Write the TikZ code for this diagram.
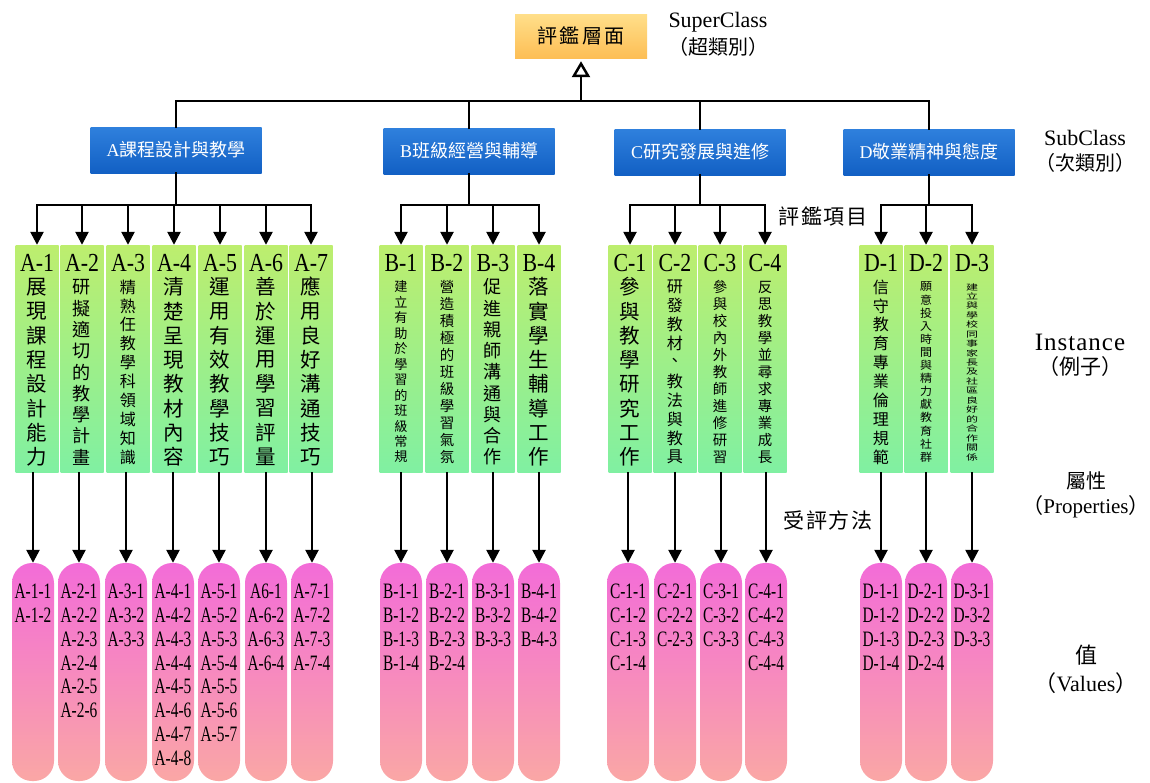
\documentclass[tikz,border=0pt]{standalone}
\usepackage{fontspec}
\setmainfont{Liberation Serif}
\newfontfamily\cjk{Noto Sans CJK TC}
\newfontfamily\narrow{Liberation Serif}[FakeStretch=0.84]
\newfontfamily\vnarrow{Liberation Serif}[FakeStretch=0.7]
\usetikzlibrary{arrows.meta}
\definecolor{subtop}{HTML}{2F80DD}
\definecolor{subbot}{HTML}{1260C4}
\definecolor{suptop}{HTML}{FFDF8A}
\definecolor{supbot}{HTML}{FDBE55}
\definecolor{insttop}{HTML}{BDEE6E}
\definecolor{instbot}{HTML}{80F0A2}
\definecolor{valtop}{HTML}{F36CD8}
\definecolor{valbot}{HTML}{FAA7A5}
\tikzset{
  ln/.style={line width=2.5pt, black, line cap=rect},
  arr/.style={line width=2.5pt, black, -{Triangle[width=13pt,length=13pt]}},
  openarr/.style={line width=2.5pt, black, -{Triangle[open,width=18pt,length=16pt]}},
  supbox/.style={rectangle, minimum width=132pt, minimum height=44pt, top color=suptop, bottom color=supbot, inner sep=0pt, font=\fontsize{20}{20}\selectfont\cjk\addfontfeature{LetterSpace=12}},
  subbox/.style={rectangle, minimum width=171pt, minimum height=46pt, top color=subtop, bottom color=subbot, text=white, inner sep=0pt, font=\fontsize{18}{18}\selectfont},
  instbox/.style={rectangle, minimum width=43pt, minimum height=227pt, top color=insttop, bottom color=instbot, inner sep=0pt},
  valbox/.style={rectangle, rounded corners=20pt, minimum width=42pt, minimum height=218pt, top color=valtop, bottom color=valbot, inner sep=0pt},
  instlab/.style={inner sep=0pt, font=\fontsize{26}{26}\selectfont\narrow},
  valtxt/.style={inner sep=0pt, align=center, anchor=north, font=\fontsize{22}{23.8}\selectfont\vnarrow},
  side/.style={inner sep=0pt, align=center, font=\fontsize{22}{25}\selectfont},
  sidecjk/.style={inner sep=0pt, font=\fontsize{21}{21}\selectfont\cjk\addfontfeature{LetterSpace=8}},
}
\begin{document}
\begin{tikzpicture}[x=1pt,y=-1pt]
\path[use as bounding box, fill=white] (0,0) rectangle (1150,782);

% super class
\node[supbox] (top) at (581,36) {評鑑層面};
\node[side] (suplab) at (718,22) {SuperClass};
\node[side, font=\fontsize{20}{20}\selectfont\cjk] (suplab2) at (718,47) {（超類別）};

% subclasses
\node[subbox] (A) at (176,150) {A{\cjk 課程設計與教學}};
\node[subbox] (B) at (469,151) {B{\cjk 班級經營與輔導}};
\node[subbox] (C) at (700,152) {C{\cjk 研究發展與進修}};
\node[subbox] (D) at (929,152) {D{\cjk 敬業精神與態度}};
\node[side] (sublab) at (1085,138) {SubClass};
\node[side, font=\fontsize{20}{20}\selectfont\cjk] (sublab2) at (1085,163) {（次類別）};

% buses
\coordinate (bus1) at (0,101);
\coordinate (bus2) at (0,205);
\draw[ln] (A.north) -- (A.north |- bus1) -- (D.north |- bus1) -- (D.north);
\draw[ln] (B.north) -- (B.north |- bus1);
\draw[ln] (C.north) -- (C.north |- bus1);
\draw[openarr, shorten >=3pt] (top.south |- bus1) -- (top.south);

% instances
\foreach \id/\x/\lab/\n/\chars in {
  A1/37/A-1/8/{展,現,課,程,設,計,能,力},
  A2/82/A-2/9/{研,擬,適,切,的,教,學,計,畫},
  A3/128/A-3/10/{精,熟,任,教,學,科,領,域,知,識},
  A4/174/A-4/8/{清,楚,呈,現,教,材,內,容},
  A5/220/A-5/8/{運,用,有,效,教,學,技,巧},
  A6/266/A-6/8/{善,於,運,用,學,習,評,量},
  A7/311/A-7/8/{應,用,良,好,溝,通,技,巧},
  B1/401/B-1/12/{建,立,有,助,於,學,習,的,班,級,常,規},
  B2/447/B-2/11/{營,造,積,極,的,班,級,學,習,氣,氛},
  B3/493/B-3/9/{促,進,親,師,溝,通,與,合,作},
  B4/539/B-4/8/{落,實,學,生,輔,導,工,作},
  C1/630/C-1/8/{參,與,教,學,研,究,工,作},
  C2/675/C-2/10/{研,發,教,材,、,教,法,與,教,具},
  C3/720/C-3/11/{參,與,校,內,外,教,師,進,修,研,習},
  C4/765/C-4/11/{反,思,教,學,並,尋,求,專,業,成,長},
  D1/881/D-1/10/{信,守,教,育,專,業,倫,理,規,範},
  D2/926/D-2/14/{願,意,投,入,時,間,與,精,力,獻,教,育,社,群},
  D3/972/D-3/19/{建,立,與,學,校,同,事,家,長,及,社,區,良,好,的,合,作,關,係}}{
  \node[instbox] (\id) at (\x,358.5) {};
  \node[instlab] (\id lab) at (\x,263) {\lab};
  \pgfmathsetmacro\sp{170/(\n-1)}
  \pgfmathsetmacro\fs{min(20.5,0.85*\sp)}
  \pgfmathsetmacro\hs{min(1.6,max(1,12/\fs))}
  \foreach \c [count=\i] in \chars {
    \node[inner sep=0pt, font=\fontsize{\fs}{\fs}\selectfont\cjk] (\id c\i) at (\x,{287+(\i-1)*\sp}) {\scalebox{\hs}[1]{\c}};
  }
}

\draw[ln] (A.south) -- (A.south |- bus2);
\draw[ln] (B.south) -- (B.south |- bus2);
\draw[ln] (C.south) -- (C.south |- bus2);
\draw[ln] (D.south) -- (D.south |- bus2);
\draw[ln] (A1.north |- bus2) -- (A7.north |- bus2);
\draw[ln] (B1.north |- bus2) -- (B4.north |- bus2);
\draw[ln] (C1.north |- bus2) -- (C4.north |- bus2);
\draw[ln] (D1.north |- bus2) -- (D3.north |- bus2);
\foreach \k in {A1,A2,A3,A4,A5,A6,A7,B1,B2,B3,B4,C1,C2,C3,C4,D1,D2,D3}
  \draw[arr] (\k.north |- bus2) -- (\k.north);

% values
\foreach \id/\x/\txt in {
  A1/33/{A-1-1\\A-1-2},
  A2/79/{A-2-1\\A-2-2\\A-2-3\\A-2-4\\A-2-5\\A-2-6},
  A3/126/{A-3-1\\A-3-2\\A-3-3},
  A4/173/{A-4-1\\A-4-2\\A-4-3\\A-4-4\\A-4-5\\A-4-6\\A-4-7\\A-4-8},
  A5/219/{A-5-1\\A-5-2\\A-5-3\\A-5-4\\A-5-5\\A-5-6\\A-5-7},
  A6/266/{A6-1\\A-6-2\\A-6-3\\A-6-4},
  A7/312/{A-7-1\\A-7-2\\A-7-3\\A-7-4},
  B1/401/{B-1-1\\B-1-2\\B-1-3\\B-1-4},
  B2/447/{B-2-1\\B-2-2\\B-2-3\\B-2-4},
  B3/493/{B-3-1\\B-3-2\\B-3-3},
  B4/539/{B-4-1\\B-4-2\\B-4-3},
  C1/628/{C-1-1\\C-1-2\\C-1-3\\C-1-4},
  C2/675/{C-2-1\\C-2-2\\C-2-3},
  C3/721/{C-3-1\\C-3-2\\C-3-3},
  C4/766/{C-4-1\\C-4-2\\C-4-3\\C-4-4},
  D1/881/{D-1-1\\D-1-2\\D-1-3\\D-1-4},
  D2/926/{D-2-1\\D-2-2\\D-2-3\\D-2-4},
  D3/972/{D-3-1\\D-3-2\\D-3-3}}{
  \node[valbox] (v\id) at (\x,672) {};
  \node[valtxt] (t\id) at (\x,584) {\txt};
  \draw[arr] (v\id.north |- \id.south) -- (v\id.north);
}

% side labels
\node[sidecjk] (item) at (823,216) {評鑑項目};
\node[sidecjk] (method) at (828,520) {受評方法};
\node[side, font=\fontsize{25}{25}\selectfont\addfontfeature{LetterSpace=4}] (inst) at (1080,342) {Instance};
\node[side, font=\fontsize{21}{21}\selectfont\cjk] (inst2) at (1080,367) {（例子）};
\node[side, font=\fontsize{20}{20}\selectfont\cjk] (prop) at (1086,481) {屬性};
\node[side, font=\fontsize{21}{21}\selectfont] (prop2) at (1086,507) {{\cjk （}Properties{\cjk ）}};
\node[side, font=\fontsize{22}{22}\selectfont\cjk] (val) at (1086,655) {值};
\node[side, font=\fontsize{22}{22}\selectfont] (val2) at (1086,683) {{\cjk （}Values{\cjk ）}};
\end{tikzpicture}
\end{document}
